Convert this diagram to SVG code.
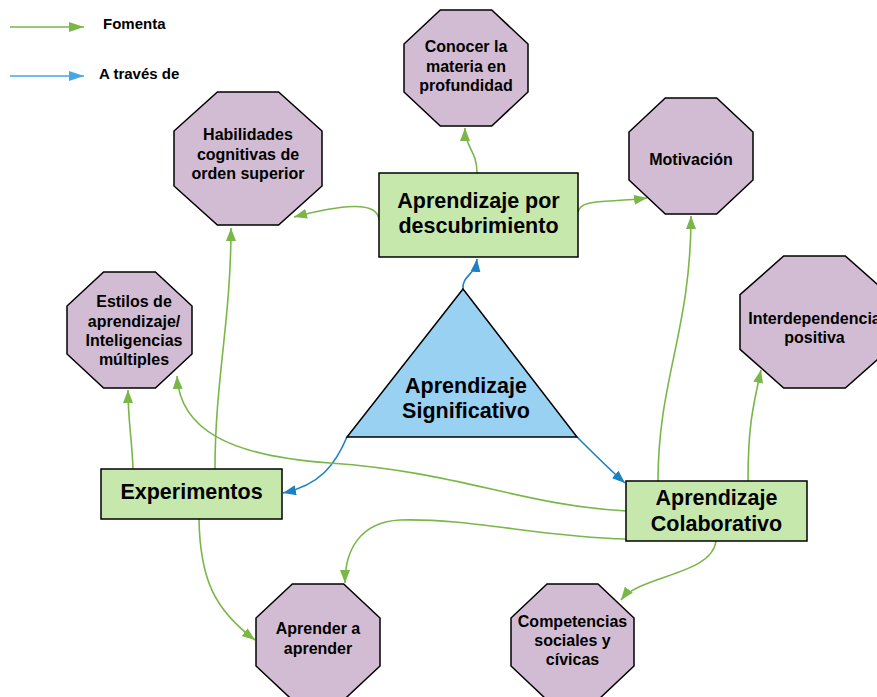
<svg xmlns="http://www.w3.org/2000/svg" width="877" height="697" viewBox="0 0 877 697">
  <defs>
    <marker id="arrowGreen" markerUnits="userSpaceOnUse" markerWidth="14" markerHeight="10" refX="13" refY="5" orient="auto">
      <path d="M0,0 L13,5 L0,10 z" fill="#7ab648"/>
    </marker>
    <marker id="arrowBlue" markerUnits="userSpaceOnUse" markerWidth="14" markerHeight="10" refX="13" refY="5" orient="auto">
      <path d="M0,0 L13,5 L0,10 z" fill="#1a82c4"/>
    </marker>
    <marker id="arrowLegendBlue" markerUnits="userSpaceOnUse" markerWidth="16" markerHeight="10" refX="15" refY="5" orient="auto">
      <path d="M0,0 L15,5 L0,10 z" fill="#45a8e2"/>
    </marker>
    <marker id="arrowLegendGreen" markerUnits="userSpaceOnUse" markerWidth="16" markerHeight="10" refX="15" refY="5" orient="auto">
      <path d="M0,0 L15,5 L0,10 z" fill="#7ab648"/>
    </marker>
  </defs>
  <style>
    text { font-family: "Liberation Sans", Arial, sans-serif; font-weight: bold; fill: #000; text-anchor: middle; }
    .oct { fill: #d2bcd3; stroke: #000; stroke-width: 1.5; }
    .box { fill: #c7e8ac; stroke: #000; stroke-width: 1.5; }
    .tri { fill: #99d1f2; stroke: #000; stroke-width: 1.5; }
    .small { font-size: 16px; }
    .big { font-size: 21.5px; }
    .legend { font-size: 15px; text-anchor: start; }
    .fomenta { fill: none; stroke: #7ab648; stroke-width: 1.6; marker-end: url(#arrowGreen); }
    .traves { fill: none; stroke: #1a82c4; stroke-width: 1.6; marker-end: url(#arrowBlue); }
  </style>
  <rect width="877" height="697" fill="#ffffff"/>

  <!-- legend -->
  <g id="legend">
    <line x1="10" y1="27" x2="84" y2="27" stroke="#7ab648" stroke-width="1.6" marker-end="url(#arrowLegendGreen)"/>
    <text class="legend" x="103" y="29">Fomenta</text>
    <line x1="10" y1="76" x2="84" y2="76" stroke="#45a8e2" stroke-width="1.6" marker-end="url(#arrowLegendBlue)"/>
    <text class="legend" x="99" y="79">A través de</text>
  </g>

  <!-- connectors -->
  <g id="connectors">
    <!-- A través de -->
    <path class="traves" d="M463 289 C462 275, 475 276, 477 259"/>
    <path class="traves" d="M347 437 C335 465, 320 485, 283 493"/>
    <path class="traves" d="M577 437 C595 455, 610 470, 625 483"/>
    <!-- Fomenta: descubrimiento -->
    <path class="fomenta" d="M477 173 C477 150, 465 148, 465 128"/>
    <path class="fomenta" d="M379 220 C378 200, 340 205, 294 217"/>
    <path class="fomenta" d="M578 212 C580 198, 610 203, 647 198"/>
    <!-- Fomenta: colaborativo -->
    <path class="fomenta" d="M658 481 C658 380, 691 330, 691 216"/>
    <path class="fomenta" d="M748 481 C748 430, 752 410, 761 370"/>
    <path class="fomenta" d="M626 511 C520 505, 460 472, 330 463 C230 456, 180 430, 177 376"/>
    <path class="fomenta" d="M626 539 C540 537, 470 518, 400 520 C360 522, 345 550, 345 583"/>
    <path class="fomenta" d="M716 541 C712 575, 640 575, 621 600"/>
    <!-- Fomenta: experimentos -->
    <path class="fomenta" d="M133 469 C132 440, 128 420, 128 390"/>
    <path class="fomenta" d="M215 469 C215 380, 231 320, 231 228"/>
    <path class="fomenta" d="M199 519 C200 580, 215 610, 255 640"/>
  </g>

  <!-- central node -->
  <g id="significativo">
    <polygon class="tri" points="463,289 577,437 347,437"/>
    <text class="big" x="466" y="393">Aprendizaje</text>
    <text class="big" x="466" y="418">Significativo</text>
  </g>

  <!-- green boxes -->
  <g id="descubrimiento">
    <rect class="box" x="379" y="173" width="199" height="84"/>
    <text class="big" x="478.5" y="208">Aprendizaje por</text>
    <text class="big" x="478.5" y="233">descubrimiento</text>
  </g>
  <g id="experimentos">
    <rect class="box" x="101" y="469" width="181" height="50"/>
    <text class="big" x="191.5" y="499">Experimentos</text>
  </g>
  <g id="colaborativo">
    <rect class="box" x="626" y="481" width="181" height="60"/>
    <text class="big" x="716.5" y="505">Aprendizaje</text>
    <text class="big" x="716.5" y="531">Colaborativo</text>
  </g>

  <!-- purple octagons -->
  <g id="conocer">
    <polygon class="oct" points="440.3,10 491.7,10 528,44 528,92 491.7,126 440.3,126 404,92 404,44"/>
    <text class="small" x="466" y="52">Conocer la</text>
    <text class="small" x="466" y="72">materia en</text>
    <text class="small" x="466" y="91">profundidad</text>
  </g>
  <g id="habilidades">
    <polygon class="oct" points="217.4,92 278.6,92 322,131 322,186 278.6,225 217.4,225 174,186 174,131"/>
    <text class="small" x="248" y="140">Habilidades</text>
    <text class="small" x="248" y="160">cognitivas de</text>
    <text class="small" x="248" y="179">orden superior</text>
  </g>
  <g id="motivacion">
    <polygon class="oct" points="665.3,98 716.7,98 753,132 753,180 716.7,214 665.3,214 629,180 629,132"/>
    <text class="small" x="691" y="165">Motivación</text>
  </g>
  <g id="interdependencia">
    <polygon class="oct" points="783.7,256 845.3,256 889,294.7 889,349.3 845.3,388 783.7,388 740,349.3 740,294.7"/>
    <text class="small" x="814.5" y="324">Interdependencia</text>
    <text class="small" x="814.5" y="343">positiva</text>
  </g>
  <g id="estilos">
    <polygon class="oct" points="103.6,272 155.4,272 192,306 192,354 155.4,388 103.6,388 67,354 67,306"/>
    <text class="small" x="134" y="307">Estilos de</text>
    <text class="small" x="134" y="327">aprendizaje/</text>
    <text class="small" x="134" y="346">Inteligencias</text>
    <text class="small" x="134" y="365">múltiples</text>
  </g>
  <g id="aprender">
    <polygon class="oct" points="292.3,584 343.7,584 380,618 380,666 343.7,700 292.3,700 256,666 256,618"/>
    <text class="small" x="318" y="634">Aprender a</text>
    <text class="small" x="318" y="654">aprender</text>
  </g>
  <g id="competencias">
    <polygon class="oct" points="547,584 598,584 634,618 634,666 598,700 547,700 511,666 511,618"/>
    <text class="small" x="572.5" y="627">Competencias</text>
    <text class="small" x="572.5" y="646">sociales y</text>
    <text class="small" x="572.5" y="665">cívicas</text>
  </g>
</svg>
